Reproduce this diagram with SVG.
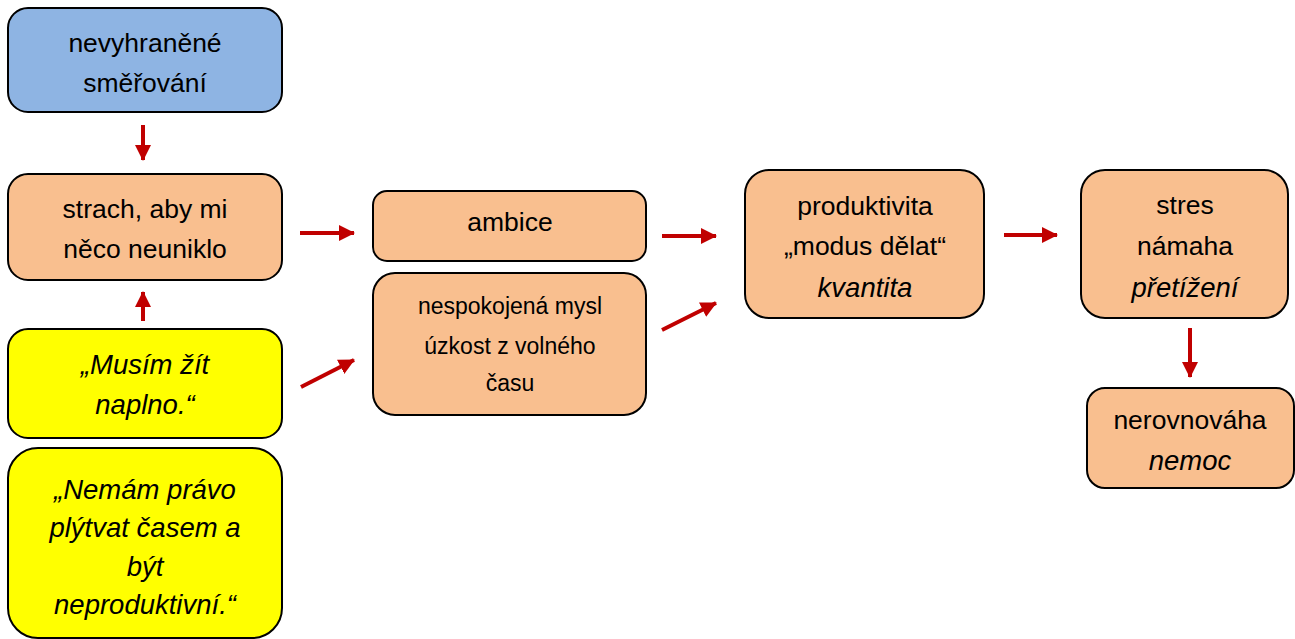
<svg xmlns="http://www.w3.org/2000/svg" width="1295" height="639" viewBox="0 0 1295 639">
<defs>
<marker id="ah" markerUnits="userSpaceOnUse" markerWidth="16" markerHeight="16" refX="15" refY="8" orient="auto">
<path d="M0,0 L16,8 L0,16 Z" fill="#c00000"/>
</marker>
<style>
.box{stroke:#000;stroke-width:2}
.o{fill:#f9bf8f}
.y{fill:#ffff00}
.b{fill:#8eb4e3}
text{font-family:"Liberation Sans","DejaVu Sans",sans-serif;font-size:26.5px;fill:#000;text-anchor:middle}
.s{font-size:23px}
.i{font-style:italic;font-size:27.5px}
.c{stroke:#c00000;stroke-width:4;fill:none;marker-end:url(#ah)}
</style>
</defs>
<g id="n1"><rect class="box b" x="8" y="8" width="274" height="104" rx="20"/>
<text x="145" y="52">nevyhraněné</text><text x="145" y="92">směřování</text></g>
<g id="n2"><rect class="box o" x="8" y="174" width="274" height="106" rx="20"/>
<text x="145" y="218">strach, aby mi</text><text x="145" y="258">něco neuniklo</text></g>
<g id="n3"><rect class="box y" x="8" y="329" width="274" height="109" rx="20"/>
<text class="i" x="145" y="374">„Musím žít</text><text class="i" x="145" y="414">naplno.“</text></g>
<g id="n4"><rect class="box y" x="8" y="448" width="274" height="190" rx="30"/>
<text class="i" x="145" y="499">„Nemám právo</text><text class="i" x="145" y="537">plýtvat časem a</text><text class="i" x="145" y="576">být</text><text class="i" x="145" y="614">neproduktivní.“</text></g>
<g id="n5"><rect class="box o" x="373" y="191" width="273" height="70" rx="14"/>
<text x="510" y="231">ambice</text></g>
<g id="n6"><rect class="box o" x="373" y="273" width="273" height="142" rx="22"/>
<text class="s" x="510" y="314">nespokojená mysl</text><text class="s" x="510" y="354">úzkost z volného</text><text class="s" x="510" y="391">času</text></g>
<g id="n7"><rect class="box o" x="745" y="170" width="239" height="148" rx="24"/>
<text x="865" y="215">produktivita</text><text x="865" y="255">„modus dělat“</text><text class="i" x="865" y="297">kvantita</text></g>
<g id="n8"><rect class="box o" x="1081" y="170" width="207" height="148" rx="24"/>
<text x="1185" y="214">stres</text><text x="1185" y="255">námaha</text><text class="i" x="1185" y="297">přetížení</text></g>
<g id="n9"><rect class="box o" x="1087" y="388" width="207" height="100" rx="18"/>
<text x="1190" y="429">nerovnováha</text><text class="i" x="1190" y="470">nemoc</text></g>
<g id="connectors">
<line class="c" x1="143" y1="125" x2="143" y2="160"/>
<line class="c" x1="143" y1="321" x2="143" y2="292"/>
<line class="c" x1="300" y1="233" x2="354" y2="233"/>
<line class="c" x1="301" y1="387" x2="354" y2="360"/>
<line class="c" x1="662" y1="236" x2="716" y2="236"/>
<line class="c" x1="662" y1="330" x2="716" y2="303"/>
<line class="c" x1="1004" y1="235" x2="1057" y2="235"/>
<line class="c" x1="1190" y1="328" x2="1190" y2="377"/>
</g>
</svg>
